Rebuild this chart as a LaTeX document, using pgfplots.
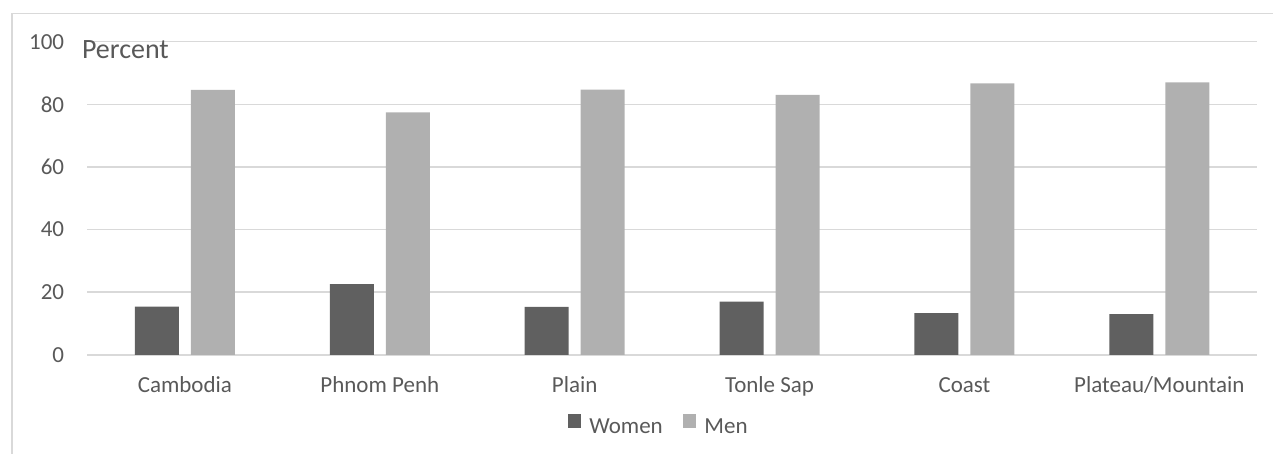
\documentclass[border=0pt]{standalone}
\usepackage{fontspec}
\setmainfont{Carlito}
\usepackage{pgfplots}
\pgfplotsset{compat=1.18}

\definecolor{womencol}{HTML}{606060}
\definecolor{mencol}{HTML}{B0B0B0}
\definecolor{gridcol}{HTML}{D9D9D9}
\definecolor{textcol}{HTML}{595959}

\begin{document}
\begin{tikzpicture}
  \begin{axis}[
    at={(0,0)}, anchor=south west,
    scale only axis,
    width=585pt, height=156.65pt,
    ybar, bar width=22pt, ybar=6pt,
    xmin=-0.5, xmax=5.5,
    ymin=0, ymax=100,
    enlargelimits=false,
    ytick={0,20,...,100},
    xtick=data,
    xticklabels={Cambodia,Phnom Penh,Plain,Tonle Sap,Coast,Plateau/Mountain},
    ymajorgrids=true,
    grid style={gridcol, line width=0.75pt},
    axis line style={draw=none},
    major tick length=0pt,
    /pgf/number format/assume math mode=true,
    tick label style={font=\fontsize{11.5}{13}\selectfont, text=textcol},
    yticklabel style={anchor=east, inner sep=0pt, xshift=-11.5pt},
    xticklabel style={anchor=base, inner sep=0pt, yshift=-18.85pt},
    clip=false,
    legend columns=2,
    legend style={at={(0.4876,0)}, anchor=center, yshift=-35.35pt,
      draw=none, fill=none, inner sep=0pt,
      font=\fontsize{11.5}{13}\selectfont, text=textcol,
      nodes={inner sep=0pt},
      /tikz/every odd column/.append style={column sep=4pt},
      /tikz/every even column/.append style={column sep=10pt}},
    legend image code/.code={\fill[#1] (0pt,0pt) rectangle (6.85pt,6.85pt);},
  ]
    \addplot[fill=womencol, draw=none] coordinates {
      (0,15.4) (1,22.6) (2,15.3) (3,17.0) (4,13.3) (5,13.0)
    };
    \addlegendentry{Women}
    \addplot[fill=mencol, draw=none] coordinates {
      (0,84.6) (1,77.4) (2,84.7) (3,83.0) (4,86.7) (5,87.0)
    };
    \addlegendentry{Men}
    \node[anchor=base west, inner sep=0pt, text=textcol,
      font=\fontsize{14}{16}\selectfont]
      at (rel axis cs:0,1) [xshift=-2.9pt, yshift=-8.3pt] {Percent};
  \end{axis}
  \draw[gridcol, line width=0.75pt] (-37.75pt,-49.5pt) -- (-37.75pt,170.85pt) -- (593.25pt,170.85pt);
  \path[use as bounding box] (-43.75pt,-49.5pt) rectangle (593.25pt,177.5pt);
\end{tikzpicture}
\end{document}
